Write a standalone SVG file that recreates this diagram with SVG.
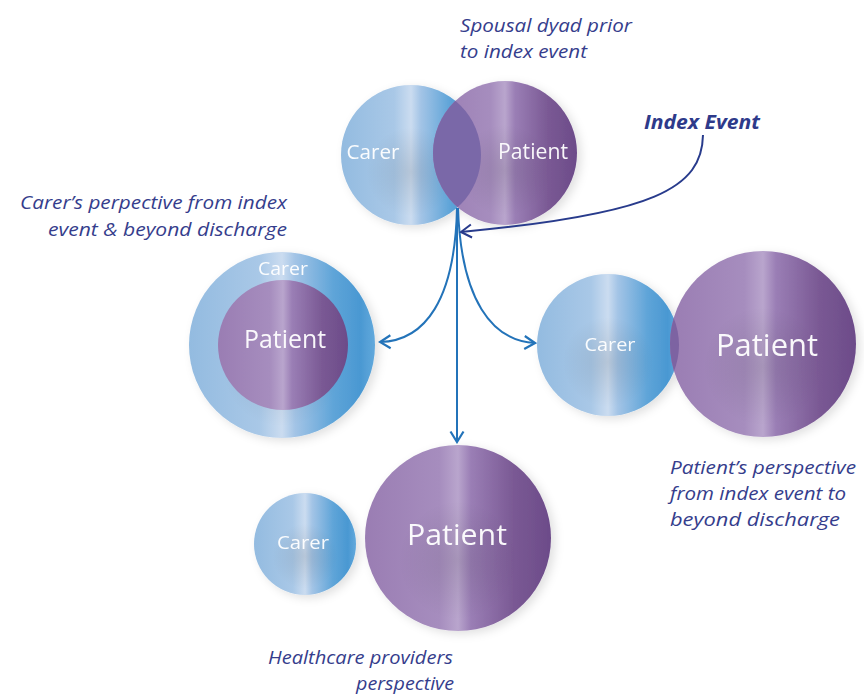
<svg xmlns="http://www.w3.org/2000/svg" width="864" height="698" viewBox="0 0 864 698">
<defs>
<style>
.lbl{font-family:"Open Sans","Noto Sans",sans-serif;font-style:italic;font-size:19px;fill:#353d8c}
.in{font-family:"Open Sans","Noto Sans",sans-serif;fill:#ffffff;fill-opacity:0.95;text-anchor:middle}
.blue{fill:url(#gBlue)}
.purp{fill:url(#gPurp)}
.shade{fill:url(#gShade)}
.conn{fill:none;stroke:#2373b9;stroke-width:2}
</style>
<linearGradient id="gBlue" x1="0" y1="0" x2="1" y2="0">
<stop offset="0" stop-color="#93bbe0"/>
<stop offset="0.38" stop-color="#a9c8e7"/>
<stop offset="0.5" stop-color="#cbdcf0"/>
<stop offset="0.57" stop-color="#a3c4e6"/>
<stop offset="0.78" stop-color="#5ea4d8"/>
<stop offset="0.92" stop-color="#4a98d2"/>
<stop offset="1" stop-color="#62a9dc"/>
</linearGradient>
<linearGradient id="gPurp" x1="0" y1="0" x2="1" y2="0">
<stop offset="0" stop-color="#9a7db3"/>
<stop offset="0.4" stop-color="#a68dbe"/>
<stop offset="0.5" stop-color="#b9a5cd"/>
<stop offset="0.57" stop-color="#9a7eb5"/>
<stop offset="0.8" stop-color="#7a5994"/>
<stop offset="1" stop-color="#6c4b89"/>
</linearGradient>
<radialGradient id="gShade" cx="0.5" cy="0.62" r="0.32">
<stop offset="0" stop-color="#000" stop-opacity="0.1"/>
<stop offset="1" stop-color="#000" stop-opacity="0"/>
</radialGradient>
<filter id="sh" x="-20%" y="-20%" width="150%" height="150%">
<feDropShadow dx="4" dy="3" stdDeviation="5" flood-color="#000" flood-opacity="0.12"/>
</filter>
<clipPath id="cpTopPat"><circle cx="505" cy="153" r="72"/></clipPath>
<clipPath id="cpRightPat"><circle cx="763" cy="344" r="93"/></clipPath>
<marker id="ah" viewBox="0 0 14 16" refX="12" refY="8" markerWidth="14" markerHeight="16" markerUnits="userSpaceOnUse" orient="auto">
<path d="M1.5,1.5 L12,8 L1.5,14.5" fill="none" stroke="#2373b9" stroke-width="2.2"/>
</marker>
<marker id="ahN" viewBox="0 0 14 16" refX="12" refY="8" markerWidth="14" markerHeight="16" markerUnits="userSpaceOnUse" orient="auto">
<path d="M1.5,1.5 L12,8 L1.5,14.5" fill="none" stroke="#283b8c" stroke-width="2"/>
</marker>
</defs>
<rect width="864" height="698" fill="#ffffff"/>

<g id="labels">
<text class="lbl" x="460" y="32" textLength="172" lengthAdjust="spacingAndGlyphs">Spousal dyad prior</text>
<text class="lbl" x="460" y="58" textLength="127" lengthAdjust="spacingAndGlyphs">to index event</text>
<text class="lbl" x="20" y="209" textLength="267" lengthAdjust="spacingAndGlyphs">Carer’s perpective from index</text>
<text class="lbl" x="48" y="236" textLength="239" lengthAdjust="spacingAndGlyphs">event &amp; beyond discharge</text>
<text class="lbl" x="670" y="474" textLength="186" lengthAdjust="spacingAndGlyphs">Patient’s perspective</text>
<text class="lbl" x="670" y="500" textLength="176" lengthAdjust="spacingAndGlyphs">from index event to</text>
<text class="lbl" x="670" y="526" textLength="170" lengthAdjust="spacingAndGlyphs">beyond discharge</text>
<text class="lbl" x="268" y="664" textLength="185" lengthAdjust="spacingAndGlyphs">Healthcare providers</text>
<text class="lbl" x="356" y="690" textLength="98" lengthAdjust="spacingAndGlyphs">perspective</text>
</g>

<g id="dyad-prior" filter="url(#sh)">
<circle class="blue" cx="411" cy="155" r="70"/>
<circle class="shade" cx="411" cy="155" r="70"/>
<circle class="purp" cx="505" cy="153" r="72"/>
<circle class="shade" cx="505" cy="153" r="72"/>
<circle cx="411" cy="155" r="70" fill="#7a68a8" clip-path="url(#cpTopPat)"/>
<text class="in" x="373" y="159" font-size="20" textLength="53" lengthAdjust="spacingAndGlyphs">Carer</text>
<text class="in" x="533" y="159" font-size="21" textLength="70" lengthAdjust="spacingAndGlyphs">Patient</text>
</g>

<g id="carer-perspective" filter="url(#sh)">
<circle class="blue" cx="282" cy="345" r="93"/>
<circle class="shade" cx="282" cy="345" r="93"/>
<circle class="purp" cx="283" cy="345" r="65"/>
<text class="in" x="283" y="275" font-size="19" textLength="50" lengthAdjust="spacingAndGlyphs">Carer</text>
<text class="in" x="285" y="348" font-size="25" textLength="82" lengthAdjust="spacingAndGlyphs">Patient</text>
</g>

<g id="patient-perspective" filter="url(#sh)">
<circle class="blue" cx="608" cy="345" r="71"/>
<circle class="shade" cx="608" cy="345" r="71"/>
<circle class="purp" cx="763" cy="344" r="93"/>
<circle class="shade" cx="763" cy="344" r="93"/>
<circle cx="608" cy="345" r="71" fill="#7d63a2" clip-path="url(#cpRightPat)"/>
<text class="in" x="610" y="351" font-size="19" textLength="51" lengthAdjust="spacingAndGlyphs">Carer</text>
<text class="in" x="767" y="356" font-size="31" textLength="102" lengthAdjust="spacingAndGlyphs">Patient</text>
</g>

<g id="healthcare-perspective" filter="url(#sh)">
<circle class="blue" cx="305" cy="544" r="51"/>
<circle class="shade" cx="305" cy="544" r="51"/>
<circle class="purp" cx="458" cy="538" r="93"/>
<circle class="shade" cx="458" cy="538" r="93"/>
<text class="in" x="303" y="549" font-size="19" textLength="52" lengthAdjust="spacingAndGlyphs">Carer</text>
<text class="in" x="457" y="545" font-size="30" textLength="100" lengthAdjust="spacingAndGlyphs">Patient</text>
</g>

<g id="index-event">
<text x="644" y="129" font-family="'Open Sans','Noto Sans',sans-serif" font-style="italic" font-weight="bold" font-size="20" fill="#2e3a8a" textLength="116" lengthAdjust="spacingAndGlyphs">Index Event</text>
</g>

<g id="connectors">
<path class="conn" d="M457,208 C455,300 425,341 380,342" marker-end="url(#ah)"/>
<path class="conn" d="M458,208 C461,300 492,341 535,343" marker-end="url(#ah)"/>
<path class="conn" d="M457,208 L457,442" marker-end="url(#ah)"/>
<path d="M703,135 C702,188 655,214 461,232" fill="none" stroke="#283b8c" stroke-width="2" marker-end="url(#ahN)"/>
</g>
</svg>
